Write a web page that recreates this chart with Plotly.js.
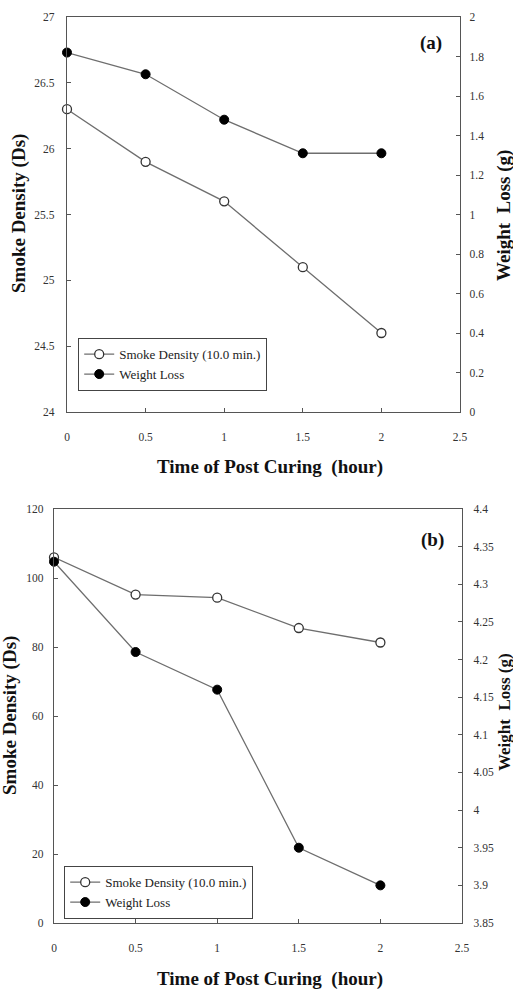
<!DOCTYPE html>
<html>
<head>
<meta charset="utf-8">
<script src="https://cdn.plot.ly/plotly-3.0.1.min.js"></script>
<style>html,body{margin:0;padding:0;background:#fff;}#chart{width:513px;height:993px;}</style>
</head>
<body>
<div id="chart"></div>
<script>
// Data
var timeHours = [0, 0.5, 1, 1.5, 2];
var smokeDensityA = [26.3, 25.9, 25.6, 25.1, 24.6];
var weightLossA = [1.82, 1.71, 1.48, 1.31, 1.31];
var smokeDensityB = [106, 95.2, 94.3, 85.5, 81.3];
var weightLossB = [4.33, 4.21, 4.16, 3.95, 3.90];
var seriesNames = ["Smoke Density (10.0 min.)", "Weight Loss"];
var panelLabels = ["(a)", "(b)"];
var xTitle = "Time of Post Curing  (hour)";
var yLeftTitle = "Smoke Density (Ds)";
var yRightTitle = "Weight  Loss (g)";

var serif = "Liberation Serif, Times New Roman, serif";
var lineColor = "#6e6e6e";

function openTrace(x, y, xa, ya, leg) {
  return {x: x, y: y, xaxis: xa, yaxis: ya, type: "scatter", mode: "lines+markers",
    name: seriesNames[0], legend: leg, cliponaxis: false,
    line: {color: lineColor, width: 1.3},
    marker: {symbol: "circle", size: 9, color: "#ffffff", line: {color: "#333", width: 1.3}}};
}
function filledTrace(x, y, xa, ya, leg) {
  return {x: x, y: y, xaxis: xa, yaxis: ya, type: "scatter", mode: "lines+markers",
    name: seriesNames[1], legend: leg, cliponaxis: false,
    line: {color: lineColor, width: 1.3},
    marker: {symbol: "circle", size: 9, color: "#000000", line: {color: "#000", width: 1}}};
}

var data = [
  openTrace(timeHours, smokeDensityA, "x", "y", "legend"),
  filledTrace(timeHours, weightLossA, "x", "y2", "legend"),
  openTrace(timeHours, smokeDensityB, "x2", "y3", "legend2"),
  filledTrace(timeHours, weightLossB, "x2", "y4", "legend2")
];

var tickFont = {family: serif, size: 11.5, color: "#333"};
function xAxis(domain, anchor) {
  return {domain: domain, anchor: anchor, range: [0, 2.5], dtick: 0.5, tick0: 0,
    showline: true, linecolor: "#555", linewidth: 1.3, mirror: true,
    ticks: "inside", ticklen: 4, tickcolor: "#555", showgrid: false, zeroline: false,
    tickfont: tickFont, ticklabelstandoff: 14, fixedrange: true};
}
function yAxis(domain, anchor, range, dtick, side, overlay, standoff) {
  var a = {domain: domain, anchor: anchor, range: range, dtick: dtick, tick0: range[0],
    side: side, showline: true, linecolor: "#555", linewidth: 1.3,
    ticks: "inside", ticklen: 4, tickcolor: "#555", showgrid: false, zeroline: false,
    tickfont: tickFont, ticklabelstandoff: standoff, fixedrange: true};
  if (overlay) a.overlaying = overlay;
  return a;
}

var domAx = [67/513, 460/513], domAy = [1 - 412/993, 1 - 17/993];
var domBx = [54/513, 462/513], domBy = [1 - 923/993, 1 - 509/993];

var titleFont = {family: serif, size: 19, color: "#111"};
function ann(text, px, py, angle, font) {
  return {text: "<b>" + text + "</b>", xref: "paper", yref: "paper", x: px/513, y: 1 - py/993,
    xanchor: "center", yanchor: "middle", textangle: angle || 0, showarrow: false, font: font || titleFont};
}
var layout = {
  width: 513, height: 993, margin: {l: 0, r: 0, t: 0, b: 0},
  paper_bgcolor: "#fff", plot_bgcolor: "#fff", showlegend: true,
  font: {family: serif},
  xaxis: xAxis(domAx, "y"),
  yaxis: yAxis(domAy, "x", [24, 27], 0.5, "left", null, 9),
  yaxis2: yAxis(domAy, "x", [0, 2], 0.2, "right", "y", 6),
  xaxis2: xAxis(domBx, "y3"),
  yaxis3: yAxis(domBy, "x2", [0, 120], 20, "left", null, 7),
  yaxis4: yAxis(domBy, "x2", [3.85, 4.4], 0.05, "right", "y3", 8),
  legend: {x: 78/513, y: 1 - 338/993, xanchor: "left", yanchor: "top",
    bgcolor: "#fff", bordercolor: "#444", borderwidth: 1.2,
    font: {family: serif, size: 13, color: "#222"}, tracegroupgap: 0},
  legend2: {x: 64/513, y: 1 - 866/993, xanchor: "left", yanchor: "top",
    bgcolor: "#fff", bordercolor: "#444", borderwidth: 1.2,
    font: {family: serif, size: 13, color: "#222"}, tracegroupgap: 0},
  annotations: [
    ann(panelLabels[0], 431, 43),
    ann(panelLabels[1], 432, 540),
    ann(xTitle, 270, 467),
    ann(xTitle, 270, 979),
    ann(yLeftTitle, 19, 214, -90),
    ann(yLeftTitle, 10, 716, -90),
    ann(yRightTitle, 504, 216, -90),
    ann(yRightTitle, 504, 712, -90, {family: serif, size: 17, color: "#111"})
  ]
};

Plotly.newPlot("chart", data, layout, {displayModeBar: false, staticPlot: true});
</script>
</body>
</html>
